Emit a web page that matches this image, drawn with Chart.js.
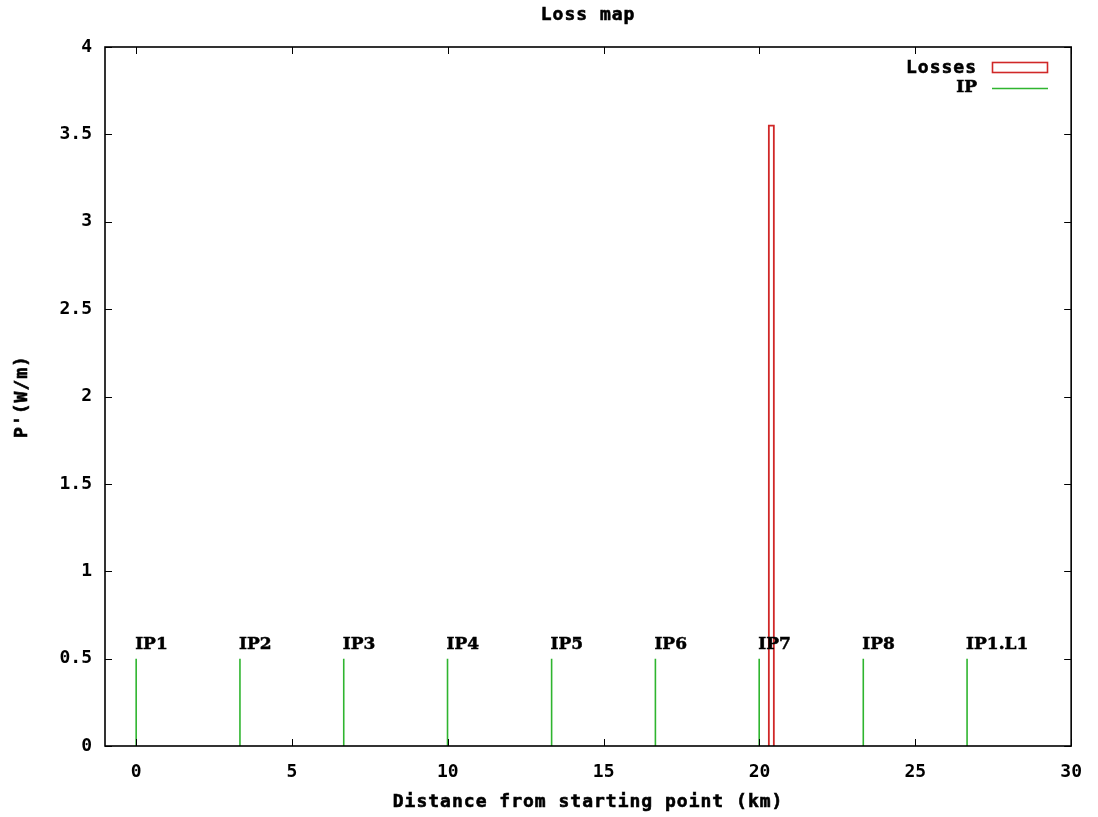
<!DOCTYPE html>
<html>
<head>
<meta charset="utf-8">
<script src="https://cdn.jsdelivr.net/npm/chart.js@4"></script>
<style>
  body { margin: 0; background: #fff; }
  #wrap { width: 1098px; height: 817px; position: relative; }
</style>
</head>
<body>
<div id="wrap"><canvas id="lossChart"></canvas></div>
<script>

// ---------------- DATA ----------------

const ipNames = ["IP1", "IP2", "IP3", "IP4", "IP5", "IP6", "IP7", "IP8", "IP1.L1"];
const ipPositions = [0, 3.33, 6.66, 9.99, 13.33, 16.66, 19.99, 23.33, 26.66];
const ipHeight = 0.5;
const ipLabelLevel = 0.58;

const lossCenters = [20.38];
const lossValues = [3.55];
const lossWidth = 0.16;

const xTicks = [0, 5, 10, 15, 20, 25, 30];
const yTicks = [0, 0.5, 1, 1.5, 2, 2.5, 3, 3.5, 4];

const RED = "#d02828";
const GREEN = "#2fb52f";
const FONT = "'DejaVu Sans Mono', monospace";


// ---------------- DATASETS ----------------

const ipPoints = ipPositions.flatMap(x => [
  { x: x, y: 0 },
  { x: x, y: ipHeight },
  { x: x, y: null }
]);

const lossPoints = lossCenters.flatMap((c, i) => [
  { x: c - lossWidth / 2, y: 0 },
  { x: c - lossWidth / 2, y: lossValues[i] },
  { x: c + lossWidth / 2, y: lossValues[i] },
  { x: c + lossWidth / 2, y: 0 },
  { x: c, y: null }
]);


// ---------------- PLUGINS ----------------

// gnuplot style frame with inward ticks on all four sides
const framePlugin = {
  id: "frame",
  afterDatasetsDraw(chart) {
    const { ctx, chartArea: a, scales } = chart;
    const len = 7;
    ctx.save();
    ctx.strokeStyle = "#000";
    ctx.lineWidth = 1;
    ctx.beginPath();
    xTicks.forEach(v => {
      const px = Math.round(scales.x.getPixelForValue(v)) + 0.5;
      ctx.moveTo(px, a.bottom); ctx.lineTo(px, a.bottom - len);
      ctx.moveTo(px, a.top); ctx.lineTo(px, a.top + len);
    });
    yTicks.forEach(v => {
      const py = Math.round(scales.y.getPixelForValue(v)) + 0.5;
      ctx.moveTo(a.left, py); ctx.lineTo(a.left + len, py);
      ctx.moveTo(a.right, py); ctx.lineTo(a.right - len, py);
    });
    ctx.stroke();
    ctx.lineWidth = 1.6;
    ctx.strokeRect(a.left, a.top, a.right - a.left, a.bottom - a.top);
    ctx.restore();
  }
};

// fill + thin stroke so the text looks as heavy as the bitmap font
function heavyText(ctx, s, x, y) {
  ctx.fillText(s, x, y);
  ctx.strokeText(s, x, y);
}

const textPlugin = {
  id: "texts",
  afterDraw(chart) {
    const { ctx, chartArea: a, scales } = chart;
    ctx.save();
    ctx.fillStyle = "#000";
    ctx.strokeStyle = "#000";
    ctx.lineWidth = 0.6;
    ctx.letterSpacing = "1px";
    ctx.font = "bold 18px " + FONT;
    ctx.textBaseline = "middle";

    // title
    ctx.textAlign = "center";
    heavyText(ctx, "Loss map", (a.left + a.right) / 2, 15);

    // x axis title
    heavyText(ctx, "Distance from starting point (km)", (a.left + a.right) / 2, 802);

    // y axis title
    ctx.save();
    ctx.translate(22, (a.top + a.bottom) / 2);
    ctx.rotate(-Math.PI / 2);
    heavyText(ctx, "P'(W/m)", 0, 0);
    ctx.restore();

    // legend
    ctx.textAlign = "right";
    heavyText(ctx, "Losses", 977, 68);
    ctx.font = "bold 17px 'DejaVu Serif', serif";
    ctx.letterSpacing = "0px";
    heavyText(ctx, "IP", 977, 88);

    ctx.lineWidth = 1.6;
    ctx.strokeStyle = RED;
    ctx.strokeRect(992.5, 62.5, 55, 10);
    ctx.strokeStyle = GREEN;
    ctx.beginPath();
    ctx.moveTo(992, 88.5);
    ctx.lineTo(1048, 88.5);
    ctx.stroke();

    // IP labels
    ctx.strokeStyle = "#000";
    ctx.lineWidth = 0.5;
    ctx.font = "bold 17px 'DejaVu Serif', serif";
    ctx.textAlign = "left";
    ipNames.forEach((name, i) => {
      heavyText(
        ctx,
        name,
        scales.x.getPixelForValue(ipPositions[i]) - 1,
        scales.y.getPixelForValue(ipLabelLevel)
      );
    });
    ctx.restore();
  }
};


// ---------------- CHART ----------------

new Chart(document.getElementById("lossChart"), {
  type: "scatter",
  data: {
    datasets: [
      {
        label: "IP",
        data: ipPoints,
        showLine: true,
        spanGaps: false,
        borderColor: GREEN,
        borderWidth: 1.6,
        pointRadius: 0
      },
      {
        label: "Losses",
        data: lossPoints,
        showLine: true,
        spanGaps: false,
        borderColor: RED,
        borderWidth: 1.8,
        pointRadius: 0
      }
    ]
  },
  options: {
    responsive: true,
    maintainAspectRatio: false,
    animation: false,
    events: [],
    layout: { padding: { top: 47, right: 26, left: 0, bottom: 0 } },
    plugins: {
      legend: { display: false },
      title: { display: false },
      tooltip: { enabled: false }
    },
    scales: {
      x: {
        type: "linear",
        min: -1,
        max: 30,
        afterFit(scale) { scale.height = 71; },
        afterBuildTicks(scale) { scale.ticks = xTicks.map(v => ({ value: v })); },
        grid: { display: false, drawTicks: false },
        border: { display: false },
        ticks: {
          color: "#000",
          padding: 16,
          maxRotation: 0,
          font: { family: FONT, size: 18, weight: "bold" }
        }
      },
      y: {
        type: "linear",
        min: 0,
        max: 4,
        afterFit(scale) { scale.width = 105; },
        afterBuildTicks(scale) { scale.ticks = yTicks.map(v => ({ value: v })); },
        grid: { display: false, drawTicks: false },
        border: { display: false },
        ticks: {
          color: "#000",
          padding: 13,
          callback: v => String(v),
          font: { family: FONT, size: 18, weight: "bold" }
        }
      }
    }
  },
  plugins: [framePlugin, textPlugin]
});

</script>
</body>
</html>
